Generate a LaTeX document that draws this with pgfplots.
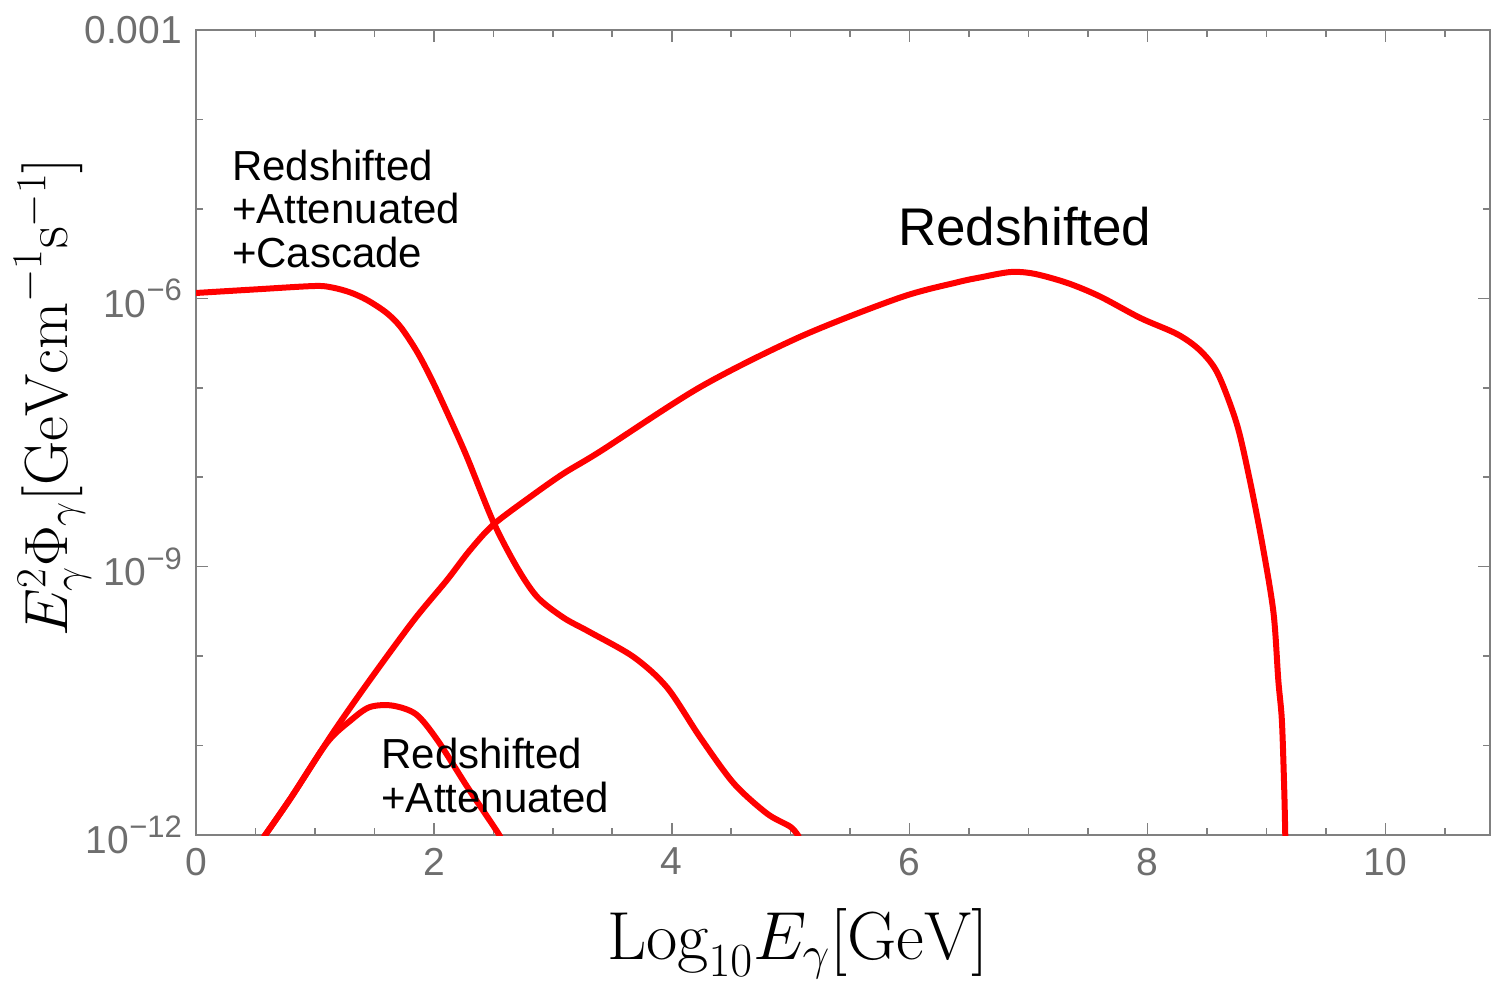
\RequirePackage{fix-cm}
\documentclass[border=0pt]{standalone}
\usepackage{pgfplots}
\pgfplotsset{compat=1.18}
\usepackage{fontspec}
\newfontfamily\lsans{Liberation Sans}
\definecolor{axgray}{HTML}{808080}
\definecolor{tickgray}{HTML}{6E6E6E}
\newcommand{\ex}[1]{10\raisebox{0.42em}{\fontsize{15.5}{15.5}\selectfont −#1}}
\begin{document}
\begin{tikzpicture}
\useasboundingbox (0,0) rectangle (745.5pt,494.5pt);
\begin{axis}[
  at={(98pt,77pt)}, anchor=south west,
  scale only axis, width=647pt, height=402.5pt,
  xmin=0, xmax=10.88, ymode=log, ymin=1e-12, ymax=1e-3,
  axis line style={axgray, line width=1pt},
  every tick/.style={axgray, line width=0.8pt},
  xtick={0,2,4,6,8,10}, xticklabels={0,2,4,6,8,10},
  minor xtick={0.5,1,1.5,...,10.5},
  ytick={1e-12,1e-9,1e-6,1e-3},
  yticklabels={\ex{12},\ex{9},\ex{6},0.001},
  minor ytick={1e-11,1e-10,1e-8,1e-7,1e-5,1e-4},
  major tick length=6pt, minor tick length=3.5pt,
  tick label style={font=\lsans\fontsize{19.5}{19.5}\selectfont, text=tickgray},
  xticklabel style={yshift=-3pt},
  yticklabel style={xshift=-3.5pt},
  xlabel={$\mathrm{Log}_{10}E_\gamma[\mathrm{GeV}]$},
  xlabel style={at={(axis description cs:0.465,-0.155)}, anchor=base, inner sep=0pt, font=\fontsize{34}{34}\selectfont},
  ylabel={$E_\gamma^2\Phi_\gamma[\mathrm{GeV cm}^{-1}\mathrm{s}^{-1}]$},
  ylabel style={at={(axis description cs:-0.111,0.544)}, anchor=center, inner sep=0pt, font=\fontsize{30.5}{30.5}\selectfont},
]
% Redshifted + Attenuated + Cascade
\addplot[red, line width=3pt, smooth] coordinates {
(0,1.148e-6) (0.5,1.259e-6) (1.0,1.374e-6) (1.15,1.318e-6) (1.30,1.161e-6)
(1.44,9.55e-7) (1.6,6.92e-7) (1.72,4.79e-7) (1.86,2.51e-7) (1.99,1.175e-7)
(2.14,4.37e-8) (2.28,1.66e-8) (2.5,3.16e-9) (2.70,9.77e-10) (2.87,4.57e-10)
(3.09,2.69e-10) (3.31,1.86e-10) (3.68,9.77e-11) (3.96,4.47e-11)
(4.24,1.23e-11) (4.52,3.80e-12) (4.80,1.74e-12) (5.0,1.23e-12) (5.07,9.5e-13)
};
% Redshifted
\addplot[red, line width=3pt, smooth] coordinates {
(0.57,9.5e-13) (0.80,2.63e-12) (1.15,1.38e-11) (1.46,5.37e-11) (1.83,2.51e-10)
(2.11,7.08e-10) (2.30,1.51e-9) (2.50,2.95e-9) (2.81,6.03e-9) (3.09,1.10e-8)
(3.40,1.95e-8) (4.24,1.02e-7) (5.08,3.72e-7) (5.92,1.02e-6) (6.4,1.51e-6)
(6.6,1.72e-6) (6.85,1.97e-6) (7.05,1.88e-6) (7.33,1.48e-6) (7.6,1.05e-6)
(7.94,6.03e-7) (8.25,3.98e-7) (8.44,2.63e-7) (8.59,1.45e-7) (8.75,3.98e-8)
(8.86,9.33e-9) (8.97,1.66e-9) (9.06,3.02e-10) (9.10,5.37e-11) (9.13,1.91e-11)
(9.15,3.16e-12) (9.16,7.9e-13)
};
% Redshifted + Attenuated
\addplot[red, line width=3pt, smooth] coordinates {
(0.57,9.5e-13) (0.80,2.63e-12) (1.10,1.07e-11) (1.30,1.91e-11) (1.46,2.69e-11)
(1.65,2.80e-11) (1.85,2.24e-11) (2.03,1.15e-11) (2.28,3.47e-12) (2.54,1.05e-12) (2.56,8.9e-13)
};
\node[anchor=base west, inner sep=0, font=\lsans\fontsize{21}{21}\selectfont] at (axis cs:0.30,2.10e-5) {Redshifted};
\node[anchor=base west, inner sep=0, font=\lsans\fontsize{21}{21}\selectfont] at (axis cs:0.30,6.93e-6) {+Attenuated};
\node[anchor=base west, inner sep=0, font=\lsans\fontsize{21}{21}\selectfont] at (axis cs:0.30,2.23e-6) {+Cascade};
\node[anchor=base west, inner sep=0, font=\lsans\fontsize{26.5}{26.5}\selectfont] at (axis cs:5.90,3.94e-6) {Redshifted};
\node[anchor=base west, inner sep=0, font=\lsans\fontsize{21}{21}\selectfont] at (axis cs:1.556,5.56e-12) {Redshifted};
\node[anchor=base west, inner sep=0, font=\lsans\fontsize{21}{21}\selectfont] at (axis cs:1.556,1.79e-12) {+Attenuated};
\end{axis}
\end{tikzpicture}
\end{document}
